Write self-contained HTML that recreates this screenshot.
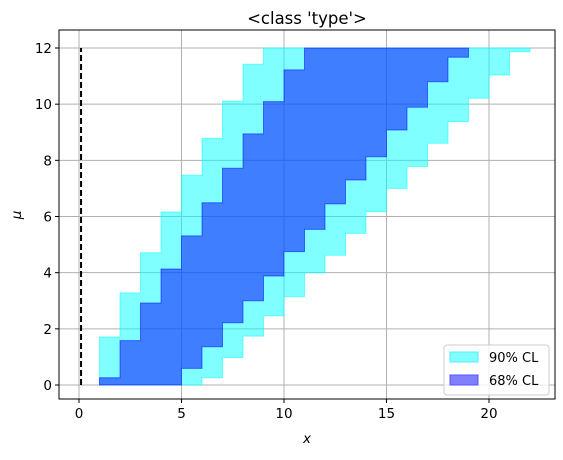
<!DOCTYPE html>
<html><head><meta charset="utf-8"><style>
body{margin:0;background:#fff;}
svg text{font-family:"DejaVu Sans","Liberation Sans",sans-serif;}
</style></head><body>
<svg id="chart" width="563" height="455">
  <rect width="563" height="455" fill="#fff"/>
  <g id="grid"></g>
  <g id="belts"></g>
  <line id="zeroline" stroke="#000" stroke-width="2" stroke-dasharray="6,3"/>
  <rect x="59" y="30" width="496" height="369" fill="none" stroke="#000" stroke-width="1"/>
  <g id="ticks"></g>
  <text x="307" y="24" font-size="16.5" text-anchor="middle">&lt;class 'type'&gt;</text>
  <text x="307" y="443" font-size="13.5" font-style="italic" text-anchor="middle">x</text>
  <text x="21" y="215" font-size="13.5" font-style="italic" text-anchor="middle" transform="rotate(-90 21 215)">μ</text>
  <g>
    <rect x="444" y="345" width="105" height="50" rx="3" fill="#fff" fill-opacity="0.8" stroke="#ccc"/>
    <rect x="450" y="352" width="28" height="10" fill="#80ffff" stroke="#55eeff"/>
    <text x="489" y="362" font-size="13">90% CL</text>
    <rect x="450" y="375" width="28" height="10" fill="#8080ff" stroke="#5555ff"/>
    <text x="489" y="385" font-size="13">68% CL</text>
  </g>
</svg>
<script>
const xTicks=[0,5,10,15,20];
const yTicks=[0,2,4,6,8,10,12];
const cl90LoX=[1,2,3,4,5,6,7,8,9];
const cl90LoMu=[1.71,3.28,4.71,6.16,7.47,8.78,10.11,11.42,12];
const cl90HiX=[6,7,8,9,10,11,12,13,14,15,16,17,18,19,20,21,22];
const cl90HiMu=[0.26,0.98,1.74,2.46,3.14,3.99,4.62,5.40,6.17,7.0,7.78,8.61,9.38,10.21,11.04,11.87,12];
const cl68LoX=[1,2,3,4,5,6,7,8,9,10,11];
const cl68LoMu=[0.26,1.58,2.92,4.13,5.31,6.49,7.72,8.94,10.09,11.22,12];
const cl68HiX=[5,6,7,8,9,10,11,12,13,14,15,16,17,18,19];
const cl68HiMu=[0.59,1.36,2.22,3.0,3.88,4.75,5.54,6.45,7.30,8.13,9.08,9.89,10.8,11.67,12];
const refX=0.1, muMax=12;

const NS="http://www.w3.org/2000/svg";
const sx=v=>79+v*20.5;
const sy=v=>385-v*28.083;
const grid=document.getElementById('grid'), ticks=document.getElementById('ticks'), belts=document.getElementById('belts');
function mk(tag,attrs,parent){const e=document.createElementNS(NS,tag);for(const k in attrs)e.setAttribute(k,attrs[k]);parent.appendChild(e);return e;}
xTicks.forEach(t=>{
  const g=mk('line',{x1:sx(t),x2:sx(t),y1:30,y2:399,stroke:'#b0b0b0','stroke-width':1},grid);
  
  
  const tk=mk('line',{x1:sx(t),x2:sx(t),y1:399,y2:403,stroke:'#000'},ticks);
  
  
  const l=mk('text',{x:sx(t),y:418,'font-size':13.5,'text-anchor':'middle'},ticks);
  l.textContent=t;
  
  
});
yTicks.forEach(t=>{
  const g=mk('line',{x1:59,x2:555,y1:sy(t),y2:sy(t),stroke:'#b0b0b0','stroke-width':1},grid);
  
  
  const tk=mk('line',{x1:55,x2:59,y1:sy(t),y2:sy(t),stroke:'#000'},ticks);
  
  
  const l=mk('text',{x:52,y:sy(t)+5,'font-size':13.5,'text-anchor':'end'},ticks);
  l.textContent=t;
  
  
});
function beltPoints(loX,loMu,hiX,hiMu){
  const pts=[];let m=0;
  for(let i=0;i<loX.length;i++){pts.push([loX[i],m]);pts.push([loX[i],loMu[i]]);m=loMu[i];}
  for(let i=hiX.length-1;i>=0;i--){const top=hiMu[i];const bot=i>0?hiMu[i-1]:0;pts.push([hiX[i],top]);pts.push([hiX[i],bot]);}
  return pts.map(p=>sx(p[0]).toFixed(1)+','+sy(p[1]).toFixed(1)).join(' ');
}
const b90=mk('polygon',{points:beltPoints(cl90LoX,cl90LoMu,cl90HiX,cl90HiMu),fill:'#00ffff','fill-opacity':0.5,stroke:'#00ffff','stroke-opacity':0.5},belts);


const b68=mk('polygon',{points:beltPoints(cl68LoX,cl68LoMu,cl68HiX,cl68HiMu),fill:'#0000ff','fill-opacity':0.5,stroke:'#0000ff','stroke-opacity':0.5},belts);


const zl=document.getElementById('zeroline');
zl.setAttribute('x1',sx(refX));zl.setAttribute('x2',sx(refX));
zl.setAttribute('y1',sy(0));zl.setAttribute('y2',sy(muMax));
</script>
</body></html>
